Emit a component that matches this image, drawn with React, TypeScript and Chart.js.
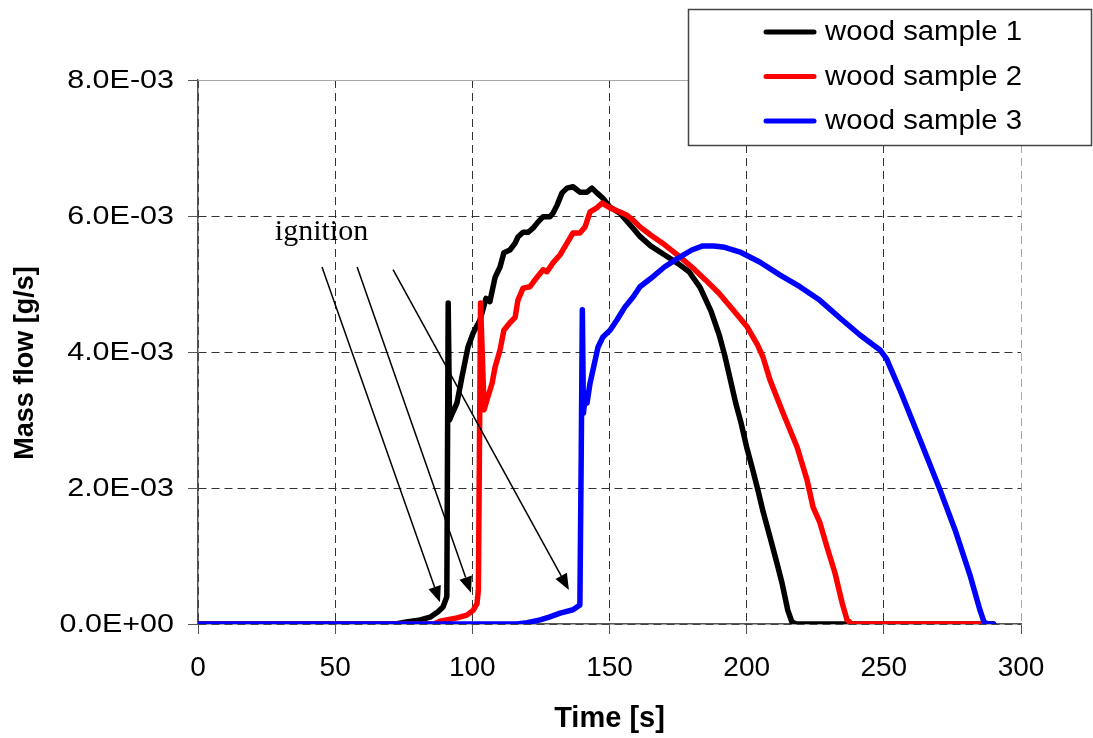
import { useEffect, useRef } from 'react';
import { Chart, registerables } from 'chart.js';

Chart.register(...registerables);

// Series definitions
const seriesLabels = ['wood sample 1', 'wood sample 2', 'wood sample 3'];
const seriesColors = ['#000000', '#ff0000', '#0000ff'];

// Wood sample 1: time [s] and mass flow [g/s]
const sample1Time = [
  0, 72, 76, 81, 84.6, 87.5, 89.3, 90.7, 91.2, 91.7, 92.5, 94.4, 96.2, 98.4, 100.3, 102.8, 105.0,
  106.4, 108.3, 110.1, 111.5, 113.7, 115.6, 116.6, 118.5, 120.3, 122.1, 123.9, 125.8, 128.3, 129.4,
  130.9, 132.7, 134.5, 136.7, 139.2, 141.8, 143.6, 145.4, 147.6, 150.2, 153.8, 158.6, 161.1, 165,
  170, 175, 179, 183, 187, 190, 192, 194, 196, 198, 200, 202, 204.1, 206, 208.5, 211, 212.9, 215,
  216.5, 218, 290,
];
const sample1Flow = [
  0, 0, 3e-5, 6e-5, 1.0e-4, 1.8e-4, 2.5e-4, 4.0e-4, 4.72e-3, 3.0e-3, 3.08e-3, 3.25e-3, 3.63e-3,
  4.07e-3, 4.28e-3, 4.47e-3, 4.79e-3, 4.74e-3, 5.10e-3, 5.25e-3, 5.46e-3, 5.50e-3, 5.60e-3,
  5.69e-3, 5.76e-3, 5.76e-3, 5.82e-3, 5.91e-3, 5.99e-3, 5.99e-3, 6.04e-3, 6.16e-3, 6.34e-3,
  6.41e-3, 6.43e-3, 6.35e-3, 6.35e-3, 6.41e-3, 6.34e-3, 6.26e-3, 6.13e-3, 6.04e-3, 5.82e-3,
  5.70e-3, 5.56e-3, 5.43e-3, 5.30e-3, 5.18e-3, 4.95e-3, 4.6e-3, 4.25e-3, 3.95e-3, 3.6e-3, 3.25e-3,
  2.95e-3, 2.6e-3, 2.3e-3, 1.97e-3, 1.65e-3, 1.28e-3, 0.9e-3, 0.6e-3, 0.2e-3, 3e-5, 0, 0,
];

// Wood sample 2: time [s] and mass flow [g/s]
const sample2Time = [
  0, 86, 88.2, 94.4, 98, 100.3, 101.7, 102.2, 103.0, 104.3, 105.3, 107.2, 108.3, 110.1, 111.5,
  113.7, 115.6, 116.6, 118.5, 121, 123.6, 125.8, 127.2, 129.4, 132, 134.5, 136.7, 139.2, 141.1,
  142.9, 145.4, 147.3, 150.2, 153.8, 156.4, 158.6, 161.1, 165, 170, 175, 180, 185, 190, 195, 200,
  204, 206, 208.5, 213.3, 218.4, 222, 224.2, 226.7, 229.3, 232.2, 234.8, 236.6, 238.4, 285,
];
const sample2Flow = [
  0, 0, 4e-5, 9e-5, 1.3e-4, 2.0e-4, 3.0e-4, 5.0e-4, 4.72e-3, 3.15e-3, 3.29e-3, 3.54e-3, 3.78e-3,
  4.03e-3, 4.32e-3, 4.43e-3, 4.51e-3, 4.76e-3, 4.94e-3, 4.96e-3, 5.10e-3, 5.21e-3, 5.18e-3,
  5.31e-3, 5.43e-3, 5.60e-3, 5.75e-3, 5.75e-3, 5.84e-3, 6.06e-3, 6.12e-3, 6.19e-3, 6.12e-3,
  6.06e-3, 6.01e-3, 5.94e-3, 5.84e-3, 5.72e-3, 5.58e-3, 5.42e-3, 5.25e-3, 5.06e-3, 4.86e-3,
  4.62e-3, 4.38e-3, 4.1e-3, 3.92e-3, 3.59e-3, 3.10e-3, 2.60e-3, 2.12e-3, 1.72e-3, 1.49e-3,
  1.13e-3, 0.75e-3, 0.31e-3, 6e-5, 0, 0,
];

// Wood sample 3: time [s] and mass flow [g/s]
const sample3Time = [
  0, 116.3, 120, 124.7, 128, 132, 136.7, 139.2, 139.7, 140.1, 140.5, 141.0, 141.8, 142.9, 144,
  145.8, 147.6, 150.2, 152.7, 155.6, 158.6, 161.1, 165, 170, 175, 180, 184, 188, 192, 197.6,
  204.9, 212.2, 219.4, 226.7, 234, 241.3, 248.6, 251, 255.9, 263.2, 270.5, 276, 281.4, 285,
  286.5, 288, 290,
];
const sample3Flow = [
  0, 0, 2e-5, 6e-5, 1.0e-4, 1.6e-4, 2.1e-4, 2.8e-4, 2.5e-3, 4.62e-3, 3.1e-3, 3.3e-3, 3.25e-3,
  3.54e-3, 3.74e-3, 4.07e-3, 4.22e-3, 4.32e-3, 4.47e-3, 4.66e-3, 4.81e-3, 4.96e-3, 5.08e-3,
  5.25e-3, 5.38e-3, 5.5e-3, 5.56e-3, 5.56e-3, 5.54e-3, 5.47e-3, 5.32e-3, 5.13e-3, 4.96e-3,
  4.76e-3, 4.5e-3, 4.25e-3, 4.03e-3, 3.9e-3, 3.44e-3, 2.71e-3, 1.97e-3, 1.38e-3, 0.72e-3,
  0.21e-3, 3e-5, 0, 0,
];

// Axis ticks
const xTickValues = [0, 50, 100, 150, 200, 250, 300];
const yTickValues = [0, 0.002, 0.004, 0.006, 0.008];

// Axis titles
const xTitle = 'Time [s]';
const yTitle = 'Mass flow [g/s]';

// "ignition" callout, in data units (time [s], mass flow [g/s])
const ignitionText = 'ignition';
const ignitionTextAt = [28, 5.65e-3];
const ignitionArrowFrom = [
  [45.2, 5.25e-3],
  [58.0, 5.25e-3],
  [71.1, 5.21e-3],
];
const ignitionArrowTo = [
  [88.2, 0.32e-3],
  [99.5, 0.46e-3],
  [135.2, 0.5e-3],
];

const SANS = '"Liberation Sans", Arial, Helvetica, sans-serif';
const SERIF = '"Liberation Serif", "Times New Roman", serif';

function formatSci(v: number): string {
  const [m, e] = Number(v).toExponential(1).split('e');
  const sign = e[0] === '-' ? '-' : '+';
  const digits = e.replace(/^[+-]/, '').padStart(2, '0');
  return `${m}E${sign}${digits}`;
}

function toPoints(t: number[], f: number[]) {
  return t.map((x, i) => ({ x, y: f[i] }));
}

// Text drawn with a slight horizontal stretch (wide sans labels)
function wideText(ctx: any, text: string, x: number, y: number, stretch: number) {
  ctx.save();
  ctx.translate(x, y);
  ctx.scale(stretch, 1);
  ctx.fillText(text, 0, 0);
  ctx.restore();
}

// Plot frame top edge, y tick labels in scientific notation and the rotated y title
const framePlugin = {
  id: 'plotFrame',
  beforeDatasetsDraw(chart: any) {
    const { ctx, chartArea } = chart;
    ctx.save();
    ctx.strokeStyle = '#a8a8a8';
    ctx.lineWidth = 1;
    ctx.beginPath();
    ctx.moveTo(chartArea.left, Math.round(chartArea.top) + 0.5);
    ctx.lineTo(chartArea.right, Math.round(chartArea.top) + 0.5);
    ctx.stroke();
    ctx.restore();
  },
  afterDraw(chart: any) {
    const { ctx, chartArea, scales } = chart;
    const ys = scales.y;
    ctx.save();
    ctx.font = `25px ${SANS}`;
    ctx.fillStyle = '#000';
    ctx.textAlign = 'right';
    ctx.textBaseline = 'middle';
    ys.ticks.forEach((t: any) => {
      wideText(ctx, formatSci(t.value), chartArea.left - 24, ys.getPixelForValue(t.value) + 1, 1.22);
    });
    ctx.restore();

    ctx.save();
    ctx.translate(26, (chartArea.top + chartArea.bottom) / 2 + 11);
    ctx.rotate(-Math.PI / 2);
    ctx.font = `bold 27px ${SANS}`;
    ctx.fillStyle = '#000';
    ctx.textAlign = 'center';
    ctx.textBaseline = 'middle';
    ctx.fillText(yTitle, 0, 0);
    ctx.restore();
  },
};

const ignitionPlugin = {
  id: 'ignitionCallout',
  afterDatasetsDraw(chart: any) {
    const { ctx, scales } = chart;
    const xs = scales.x;
    const ys = scales.y;
    ctx.save();
    ctx.font = `30px ${SERIF}`;
    ctx.fillStyle = '#000';
    ctx.textAlign = 'left';
    ctx.textBaseline = 'alphabetic';
    ctx.fillText(ignitionText, xs.getPixelForValue(ignitionTextAt[0]), ys.getPixelForValue(ignitionTextAt[1]));

    ctx.strokeStyle = '#000';
    ctx.lineWidth = 1.5;
    ignitionArrowFrom.forEach((from, i) => {
      const to = ignitionArrowTo[i];
      const x1 = xs.getPixelForValue(from[0]);
      const y1 = ys.getPixelForValue(from[1]);
      const x2 = xs.getPixelForValue(to[0]);
      const y2 = ys.getPixelForValue(to[1]);
      const ang = Math.atan2(y2 - y1, x2 - x1);
      const headLen = 16;
      const headHalf = 6.5;
      const bx = x2 - headLen * Math.cos(ang);
      const by = y2 - headLen * Math.sin(ang);
      ctx.beginPath();
      ctx.moveTo(x1, y1);
      ctx.lineTo(bx, by);
      ctx.stroke();
      ctx.beginPath();
      ctx.moveTo(x2, y2);
      ctx.lineTo(bx + headHalf * Math.sin(ang), by - headHalf * Math.cos(ang));
      ctx.lineTo(bx - headHalf * Math.sin(ang), by + headHalf * Math.cos(ang));
      ctx.closePath();
      ctx.fillStyle = '#000';
      ctx.fill();
    });
    ctx.restore();
  },
};

const boxLegendPlugin = {
  id: 'boxLegend',
  afterDraw(chart: any) {
    const { ctx } = chart;
    ctx.save();
    const left = 688.5;
    const top = 9.5;
    const width = 403;
    const height = 136;
    ctx.fillStyle = '#ffffff';
    ctx.fillRect(left, top, width, height);
    ctx.strokeStyle = '#444444';
    ctx.lineWidth = 1.5;
    ctx.strokeRect(left, top, width, height);
    chart.data.datasets.forEach((ds: any, i: number) => {
      const y = 32 + i * 44.5;
      ctx.strokeStyle = ds.borderColor;
      ctx.lineWidth = 5;
      ctx.lineCap = 'round';
      ctx.beginPath();
      ctx.moveTo(766, y);
      ctx.lineTo(814, y);
      ctx.stroke();
      ctx.fillStyle = '#000';
      ctx.font = `27px ${SANS}`;
      ctx.textAlign = 'left';
      ctx.textBaseline = 'middle';
      wideText(ctx, ds.label, 825, y + 1, 1.085);
    });
    ctx.restore();
  },
};

export default function App() {
  const canvasRef = useRef<HTMLCanvasElement | null>(null);

  useEffect(() => {
    const canvas = canvasRef.current;
    if (!canvas) return;

    const series = [
      toPoints(sample1Time, sample1Flow),
      toPoints(sample2Time, sample2Flow),
      toPoints(sample3Time, sample3Flow),
    ];
    // blue drawn on top, then red, then black
    const drawOrder = [2, 1, 0];

    const gridColor = (max: number) => (c: any) =>
      c.tick && Math.abs(c.tick.value - max) < 1e-9 ? '#a8a8a8' : '#333333';

    const chart = new Chart(canvas, {
      type: 'line',
      data: {
        datasets: series.map((data, i) => ({
          label: seriesLabels[i],
          data,
          borderColor: seriesColors[i],
          backgroundColor: seriesColors[i],
          borderWidth: 5.5,
          pointRadius: 0,
          tension: 0,
          fill: false,
          borderJoinStyle: 'round' as const,
          borderCapStyle: 'round' as const,
          order: drawOrder[i],
        })),
      },
      options: {
        animation: false,
        responsive: false,
        layout: { padding: { left: 0, top: 80, right: 72, bottom: 0 } },
        plugins: {
          legend: { display: false },
          tooltip: { enabled: false },
        },
        scales: {
          x: {
            type: 'linear',
            min: 0,
            max: 300,
            afterBuildTicks: (s: any) => {
              s.ticks = xTickValues.map((value) => ({ value }));
            },
            afterFit: (s: any) => {
              s.height = 114;
            },
            grid: {
              color: gridColor(300),
              lineWidth: 1,
              drawTicks: true,
              tickLength: 10,
              tickColor: '#555555',
              tickWidth: 1,
            },
            border: { display: true, color: '#555555', width: 1.5, dash: [8, 5] },
            ticks: {
              color: '#000',
              padding: 17,
              maxRotation: 0,
              font: { family: SANS, size: 28 },
              callback: (v: any) => String(v),
            },
            title: {
              display: true,
              text: xTitle,
              color: '#000',
              font: { family: SANS, size: 29, weight: 'bold' },
              padding: { top: 2, bottom: 2 },
            },
          },
          y: {
            type: 'linear',
            min: 0,
            max: 0.008,
            afterBuildTicks: (s: any) => {
              s.ticks = yTickValues.map((value) => ({ value }));
            },
            afterFit: (s: any) => {
              s.width = 198;
            },
            grid: {
              color: gridColor(0.008),
              lineWidth: 1,
              drawTicks: true,
              tickLength: 10,
              tickColor: '#555555',
              tickWidth: 1,
            },
            border: { display: true, color: '#555555', width: 1.5, dash: [8, 5] },
            ticks: { display: false },
            title: { display: false },
          },
        },
      } as any,
      plugins: [framePlugin, ignitionPlugin, boxLegendPlugin],
    });

    return () => {
      chart.destroy();
    };
  }, []);

  return (
    <div style={{ position: 'absolute', left: 0, top: 0, width: 1093, height: 738, background: '#fff' }}>
      <canvas ref={canvasRef} width={1093} height={738} style={{ display: 'block', width: 1093, height: 738 }} />
    </div>
  );
}
